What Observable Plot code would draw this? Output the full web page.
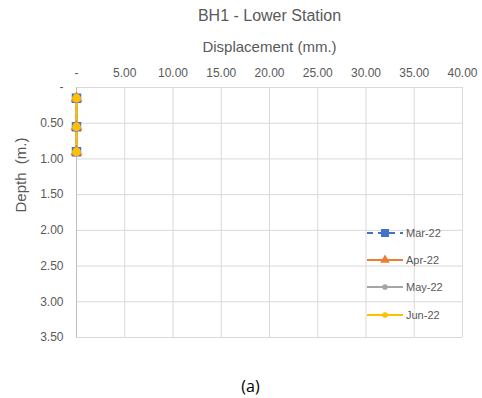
<!DOCTYPE html>
<html><head><meta charset="utf-8">
<script src="https://cdn.jsdelivr.net/npm/d3@7"></script>
<script src="https://cdn.jsdelivr.net/npm/@observablehq/plot@0.6"></script>
<style>body{margin:0;background:#fff;} svg{display:block;}</style>
</head><body><div id="chart"></div>
<script>
const title = "BH1 - Lower Station";
const xLabel = "Displacement (mm.)";
const yLabel = "Depth\u00a0 (m.)";
const caption = "(a)";
const seriesNames = ["Mar-22", "Apr-22", "May-22", "Jun-22"];
const seriesColors = ["#4472C4", "#ED7D31", "#A5A5A5", "#FFC000"];
const seriesSymbols = ["square", "triangle", "circle", "circle"];
const depths = [0.15, 0.55, 0.90];
const mar22 = [0, 0, 0];
const apr22 = [0, 0, 0];
const may22 = [0, 0, 0];
const jun22 = [0, 0, 0];
const xTicks = [0, 5, 10, 15, 20, 25, 30, 35, 40];
const yTicks = [0, 0.5, 1, 1.5, 2, 2.5, 3, 3.5];

const allValues = [mar22, apr22, may22, jun22];
const data = [];
seriesNames.forEach((s, i) => depths.forEach((d, j) => data.push({series: s, depth: d, disp: allValues[i][j]})));

const fmt = v => v === 0 ? "-" : v.toFixed(2);
const font = "'Liberation Sans', Arial, sans-serif";
const grey = "#595959";
const gridC = "#d9d9d9";

const marks = [
  Plot.gridX(xTicks, {stroke: gridC, strokeOpacity: 1}),
  Plot.gridY(yTicks, {stroke: gridC, strokeOpacity: 1}),
  Plot.axisX({anchor: "top", ticks: xTicks, tickFormat: fmt, tickSize: 0, tickPadding: 11, label: null, fontSize: 12, fill: grey}),
  Plot.axisY({anchor: "left", ticks: yTicks, tickFormat: fmt, tickSize: 0, tickPadding: 13, label: null, fontSize: 12, fill: grey}),
  Plot.ruleX([0], {stroke: "#bfbfbf"}),
  Plot.text([title], {frameAnchor: "top", dy: -72, lineAnchor: "middle", fontSize: 16, fill: grey}),
  Plot.text([xLabel], {frameAnchor: "top", dy: -40, lineAnchor: "middle", fontSize: 15, fill: grey}),
  Plot.text([yLabel], {frameAnchor: "left", dx: -55, rotate: -90, lineAnchor: "middle", fontSize: 15, fill: grey}),
  Plot.text([caption], {frameAnchor: "bottom", dx: -19, dy: 49, lineAnchor: "middle", fontSize: 16, fill: "#000", fontFamily: "'Open Sans', sans-serif"})
];
seriesNames.forEach((s, i) => {
  const rows = data.filter(r => r.series === s);
  marks.push(Plot.line(rows, {x: "disp", y: "depth", stroke: seriesColors[i], strokeWidth: 2, strokeDasharray: i === 0 ? "5,3" : null}));
});
seriesNames.forEach((s, i) => {
  const rows = data.filter(r => r.series === s);
  marks.push(Plot.dot(rows, {x: "disp", y: "depth", symbol: seriesSymbols[i], fill: seriesColors[i], stroke: seriesColors[i], r: i === 0 ? 4.5 : 3.5}));
});

const chart = Plot.plot({
  width: 482, height: 398,
  marginTop: 87, marginLeft: 76, marginRight: 20, marginBottom: 61,
  style: {fontFamily: font, background: "#fff"},
  x: {domain: [0, 40]},
  y: {domain: [0, 3.5], reverse: true},
  marks
});
document.getElementById("chart").append(chart);

// legend
const svg = d3.select(chart);
const lg = svg.append("g").attr("font-family", font).attr("font-size", 11).attr("fill", grey).attr("text-anchor", "start");
const legY = [233, 260, 287, 315];
seriesNames.forEach((s, i) => {
  const g = lg.append("g").attr("transform", `translate(0,${legY[i]})`);
  g.append("line").attr("x1", 367).attr("x2", 403).attr("y1", 0).attr("y2", 0)
    .attr("stroke", seriesColors[i]).attr("stroke-width", 2).attr("stroke-dasharray", i === 0 ? "6,5" : null);
  const sym = i === 0 ? d3.symbolSquare : i === 1 ? d3.symbolTriangle : d3.symbolCircle;
  const size = i === 0 ? 64 : i === 1 ? 40 : 25;
  g.append("path").attr("d", d3.symbol(sym, size)()).attr("transform", "translate(385,0)").attr("fill", seriesColors[i]);
  g.append("text").attr("x", 406).attr("dy", "0.35em").attr("text-anchor", "start").text(s);
});
</script></body></html>
